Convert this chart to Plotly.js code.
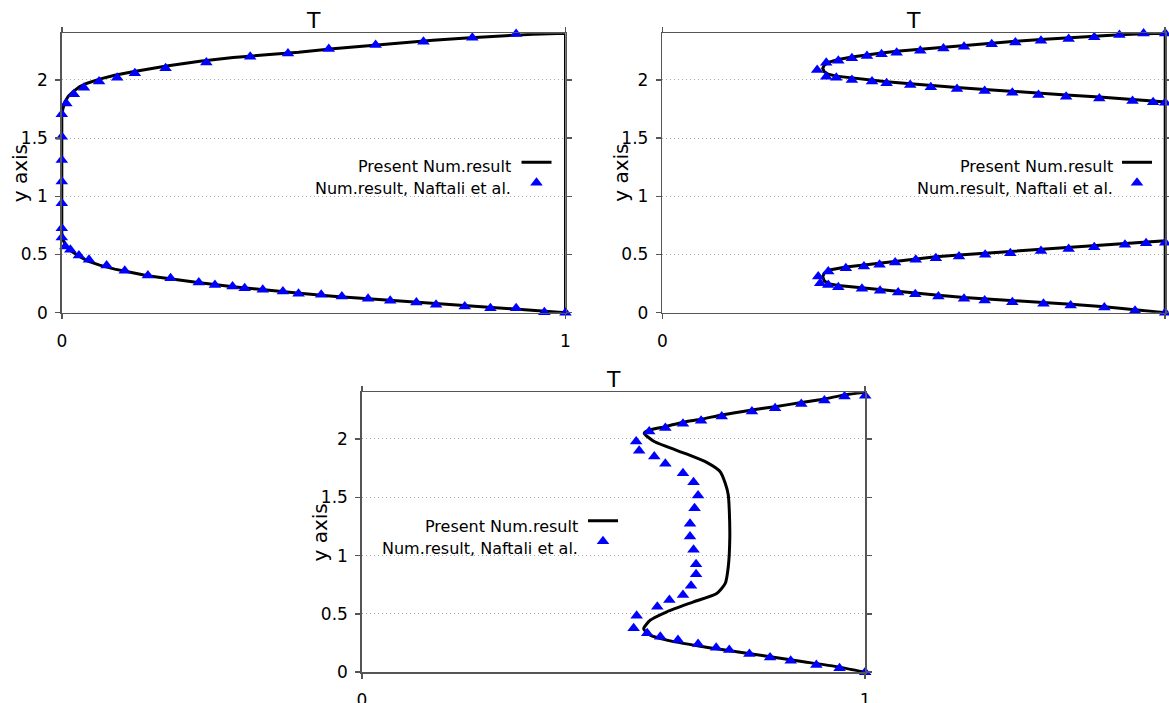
<!DOCTYPE html>
<html>
<head>
<meta charset="utf-8">
<script src="https://cdn.plot.ly/plotly-3.0.1.min.js"></script>
<style>html,body{margin:0;padding:0;background:#fff;}#chart{width:1169px;height:703px;}</style>
</head>
<body>
<div id="chart"></div>
<script>
// ---------- data ----------
const seriesNames = ['Present Num.result', 'Num.result, Naftali et al.'];
const panelTitle = 'T';
const yAxisTitle = 'y axis';
const yTickVals = [0, 0.5, 1, 1.5, 2];
const yTickText = ['0', '0.5', '1', '1.5', '2'];
const xTickVals = [0, 1];
const xTickText = ['0', '1'];

// Panel A (top left)
const lineA_T = [1, 0.935, 0.869, 0.803, 0.737, 0.671, 0.605, 0.538, 0.472, 0.406, 0.340, 0.274, 0.208, 0.170, 0.141, 0.105, 0.075, 0.052, 0.036, 0.020, 0.009, 0.003, 0.0, 0.0, 0.0, 0.002, 0.006, 0.013, 0.022, 0.035, 0.049, 0.075, 0.105, 0.141, 0.208, 0.274, 0.340, 0.406, 0.470, 0.538, 0.605, 0.671, 0.737, 0.803, 0.869, 0.935, 1, 1];
const lineA_y = [0, 0.020, 0.038, 0.058, 0.081, 0.099, 0.118, 0.142, 0.167, 0.193, 0.223, 0.257, 0.295, 0.318, 0.343, 0.374, 0.409, 0.443, 0.481, 0.525, 0.567, 0.620, 0.684, 1.0, 1.682, 1.750, 1.811, 1.860, 1.897, 1.940, 1.969, 2.006, 2.040, 2.069, 2.120, 2.160, 2.192, 2.215, 2.237, 2.268, 2.293, 2.318, 2.340, 2.360, 2.378, 2.392, 2.4, 0];
const markA_T = [1.0, 0.958, 0.902, 0.851, 0.800, 0.743, 0.704, 0.652, 0.608, 0.556, 0.515, 0.470, 0.439, 0.399, 0.363, 0.339, 0.304, 0.272, 0.216, 0.171, 0.125, 0.089, 0.054, 0.034, 0.017, 0.007, 0.0, 0.0, 0.0, 0.0, 0.0, 0.0, 0.0, 0.009, 0.024, 0.044, 0.074, 0.110, 0.145, 0.206, 0.287, 0.374, 0.449, 0.530, 0.623, 0.718, 0.815, 0.902];
const markA_y = [0.0, 0.004, 0.039, 0.039, 0.053, 0.068, 0.088, 0.102, 0.119, 0.139, 0.154, 0.162, 0.182, 0.197, 0.210, 0.225, 0.239, 0.259, 0.296, 0.319, 0.360, 0.405, 0.454, 0.491, 0.540, 0.568, 0.645, 0.725, 0.940, 1.126, 1.312, 1.512, 1.704, 1.798, 1.876, 1.933, 1.985, 2.019, 2.056, 2.099, 2.150, 2.199, 2.227, 2.265, 2.300, 2.328, 2.362, 2.394];

// Panel B (top right)
const lineB_T = [1, 0.940, 0.879, 0.812, 0.758, 0.696, 0.641, 0.600, 0.549, 0.503, 0.469, 0.433, 0.397, 0.350, 0.330, 0.322, 0.319, 0.322, 0.330, 0.365, 0.401, 0.432, 0.463, 0.504, 0.544, 0.590, 0.642, 0.692, 0.753, 0.808, 0.859, 0.920, 0.962, 1, 1, 0.976, 0.935, 0.869, 0.803, 0.748, 0.696, 0.641, 0.586, 0.534, 0.493, 0.446, 0.417, 0.377, 0.346, 0.330, 0.322, 0.319, 0.322, 0.330, 0.350, 0.377, 0.407, 0.436, 0.466, 0.513, 0.559, 0.600, 0.655, 0.702, 0.753, 0.808, 0.859, 0.909, 0.957, 1, 1];
const lineB_y = [0, 0.025, 0.052, 0.073, 0.088, 0.103, 0.118, 0.130, 0.150, 0.168, 0.182, 0.198, 0.214, 0.234, 0.250, 0.275, 0.309, 0.340, 0.365, 0.393, 0.409, 0.424, 0.442, 0.464, 0.480, 0.495, 0.510, 0.524, 0.543, 0.560, 0.575, 0.594, 0.606, 0.618, 1.810, 1.818, 1.832, 1.852, 1.869, 1.884, 1.902, 1.918, 1.935, 1.950, 1.967, 1.983, 1.997, 2.013, 2.032, 2.048, 2.070, 2.098, 2.126, 2.150, 2.175, 2.196, 2.216, 2.231, 2.245, 2.263, 2.282, 2.297, 2.316, 2.332, 2.347, 2.362, 2.375, 2.388, 2.396, 2.4, 0];
const markB_T = [1.0, 0.940, 0.879, 0.812, 0.758, 0.696, 0.641, 0.600, 0.549, 0.503, 0.469, 0.433, 0.397, 0.350, 0.330, 0.314, 0.310, 0.330, 0.365, 0.401, 0.432, 0.463, 0.504, 0.544, 0.590, 0.642, 0.692, 0.753, 0.808, 0.859, 0.920, 0.962, 1.0,
                 1.0, 0.976, 0.935, 0.869, 0.803, 0.748, 0.696, 0.641, 0.586, 0.534, 0.493, 0.446, 0.417, 0.377, 0.346, 0.326, 0.308, 0.326, 0.350, 0.377, 0.407, 0.436, 0.466, 0.513, 0.559, 0.600, 0.655, 0.702, 0.753, 0.808, 0.859, 0.909, 0.957, 1.0];
const markB_y = [0.0, 0.016, 0.045, 0.062, 0.076, 0.090, 0.105, 0.119, 0.139, 0.159, 0.173, 0.188, 0.205, 0.219, 0.239, 0.253, 0.311, 0.354, 0.382, 0.397, 0.411, 0.431, 0.454, 0.468, 0.482, 0.497, 0.511, 0.531, 0.548, 0.562, 0.583, 0.597, 0.600,
                 1.804, 1.807, 1.819, 1.841, 1.856, 1.870, 1.890, 1.905, 1.922, 1.936, 1.956, 1.970, 1.985, 1.999, 2.019, 2.027, 2.085, 2.148, 2.165, 2.185, 2.205, 2.219, 2.234, 2.251, 2.270, 2.285, 2.305, 2.322, 2.336, 2.351, 2.365, 2.385, 2.399, 2.399];

// Panel C (bottom)
const lineC_T = [1.0, 0.937, 0.871, 0.805, 0.738, 0.672, 0.606, 0.573, 0.560, 0.573, 0.606, 0.659, 0.705, 0.722, 0.728, 0.731, 0.730, 0.728, 0.722, 0.712, 0.686, 0.646, 0.606, 0.579, 0.561, 0.571, 0.603, 0.638, 0.674, 0.715, 0.775, 0.821, 0.873, 0.919, 0.959, 1.0];
const lineC_y = [0.0, 0.052, 0.094, 0.137, 0.180, 0.223, 0.275, 0.318, 0.372, 0.446, 0.518, 0.603, 0.675, 0.761, 0.904, 1.150, 1.390, 1.520, 1.620, 1.719, 1.797, 1.869, 1.934, 1.983, 2.049, 2.077, 2.106, 2.144, 2.169, 2.206, 2.249, 2.277, 2.312, 2.343, 2.378, 2.400];
const markC_T = [1.0, 0.949, 0.903, 0.852, 0.811, 0.770, 0.730, 0.704, 0.668, 0.628, 0.593, 0.567, 0.540, 0.546, 0.587, 0.611, 0.638, 0.654, 0.664, 0.664, 0.659, 0.652, 0.652, 0.661, 0.668, 0.659, 0.638, 0.603, 0.581, 0.551, 0.545, 0.571, 0.603, 0.638, 0.674, 0.715, 0.775, 0.821, 0.873, 0.919, 0.959, 1.0];
const markC_y = [0.0, 0.033, 0.062, 0.099, 0.127, 0.156, 0.191, 0.210, 0.242, 0.276, 0.305, 0.333, 0.376, 0.485, 0.562, 0.620, 0.663, 0.742, 0.839, 0.925, 1.049, 1.163, 1.272, 1.406, 1.515, 1.629, 1.706, 1.787, 1.850, 1.899, 1.979, 2.064, 2.093, 2.131, 2.156, 2.193, 2.236, 2.264, 2.299, 2.330, 2.365, 2.370];

// ---------- styling ----------
const FONT = 'DejaVu Sans, Verdana, sans-serif';
const W = 1169, H = 703;
const px = v => v / W;
const py = v => 1 - v / H;

const panels = [
  {xa: 'x', ya: 'y', lg: 'legend', lx: [61.8, 565.5], ly: [312.7, 33.3], lineT: lineA_T, lineY: lineA_y, mT: markA_T, mY: markA_y,
   shape: 'linear', legX: 516.5, legY: 147, textX: 513, textY: [166, 188]},
  {xa: 'x2', ya: 'y2', lg: 'legend2', lx: [662.3, 1165.2], ly: [312.7, 33.3], lineT: lineB_T, lineY: lineB_y, mT: markB_T, mY: markB_y,
   shape: 'linear', legX: 1117, legY: 147, textX: 1115, textY: [166, 188]},
  {xa: 'x3', ya: 'y3', lg: 'legend3', lx: [361.8, 865.2], ly: [672.2, 392.3], lineT: lineC_T, lineY: lineC_y, mT: markC_T, mY: markC_y,
   shape: 'spline', legX: 583, legY: 505.4, textX: 580, textY: [526, 548]}
];

const data = [];
const layout = {
  width: W, height: H,
  margin: {l: 0, r: 0, t: 0, b: 0},
  paper_bgcolor: '#fff', plot_bgcolor: '#fff',
  font: {family: FONT, color: '#000'},
  hovermode: false,
  annotations: []
};

const axisCommon = {
  showline: true, linecolor: '#555', linewidth: 1.5, mirror: 'ticks',
  ticks: 'outside', ticklen: 5, tickwidth: 1.5, tickcolor: '#555',
  zeroline: false, automargin: false, fixedrange: true,
  tickfont: {family: FONT, size: 17, color: '#000'}
};

panels.forEach((p, i) => {
  const n = i === 0 ? '' : String(i + 1);
  data.push({
    type: 'scatter', mode: 'lines', x: p.lineT, y: p.lineY, xaxis: p.xa, yaxis: p.ya,
    line: {color: '#000', width: 3, shape: p.shape, smoothing: 0.6}, name: '', legend: p.lg, showlegend: true, cliponaxis: false
  });
  data.push({
    type: 'scatter', mode: 'markers', x: p.mT, y: p.mY, xaxis: p.xa, yaxis: p.ya,
    marker: {symbol: 'triangle-up', size: 11, color: '#0000ff', line: {width: 0}},
    name: '', legend: p.lg, showlegend: true, cliponaxis: false
  });
  layout['xaxis' + n] = Object.assign({}, axisCommon, {
    domain: [px(p.lx[0]), px(p.lx[1])], anchor: 'y' + n, range: [0, 1],
    tickmode: 'array', tickvals: xTickVals, ticktext: xTickText, showgrid: false, ticklabelstandoff: 7
  });
  layout['yaxis' + n] = Object.assign({}, axisCommon, {
    domain: [py(p.ly[0]), py(p.ly[1])], anchor: 'x' + n, range: [0, 2.4],
    tickmode: 'array', tickvals: yTickVals, ticktext: yTickText,
    showgrid: true, gridcolor: '#a8a8a8', gridwidth: 1, griddash: '1px,3px', ticklabelstandoff: 4
  });
  layout[p.lg] = {
    x: px(p.legX), y: py(p.legY), xanchor: 'left', yanchor: 'top',
    bgcolor: 'rgba(0,0,0,0)', borderwidth: 0, font: {family: FONT, size: 13.5, color: '#000'},
    itemclick: false, itemdoubleclick: false
  };
  const cx = (p.lx[0] + p.lx[1]) / 2;
  const cy = (p.ly[0] + p.ly[1]) / 2;
  layout.annotations.push({
    text: panelTitle, xref: 'paper', yref: 'paper', x: px(cx), y: py(p.ly[1] - 12.5),
    xanchor: 'center', yanchor: 'middle', showarrow: false, font: {family: FONT, size: 22, color: '#000'}
  });
  layout.annotations.push({
    text: yAxisTitle, xref: 'paper', yref: 'paper', x: px(p.lx[0] - 41.5), y: py(cy),
    xanchor: 'center', yanchor: 'middle', textangle: -90, showarrow: false, font: {family: FONT, size: 20, color: '#000'}
  });
  seriesNames.forEach((s, k) => {
    layout.annotations.push({
      text: s, xref: 'paper', yref: 'paper', x: px(p.textX), y: py(p.textY[k]),
      xanchor: 'right', yanchor: 'middle', showarrow: false, font: {family: FONT, size: 16, color: '#000'}
    });
  });
});

Plotly.newPlot('chart', data, layout, {displayModeBar: false, staticPlot: true});
</script>
</body>
</html>
